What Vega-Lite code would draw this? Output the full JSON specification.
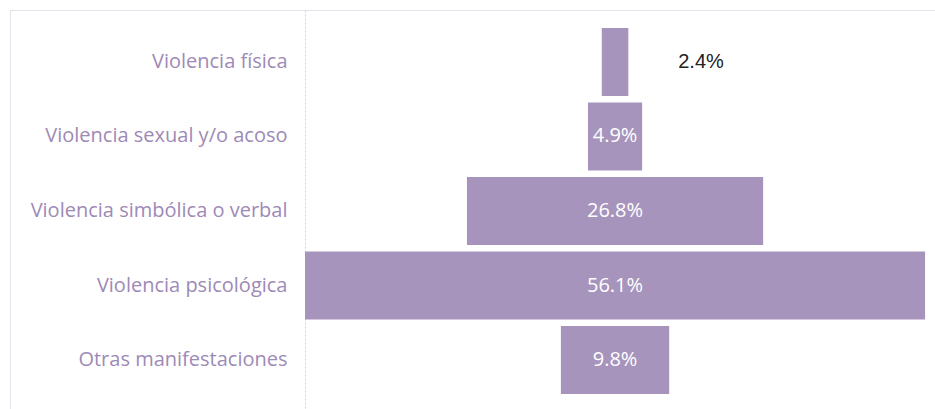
{
  "$schema": "https://vega.github.io/schema/vega-lite/v6.json",
  "width": 930,
  "height": 402,
  "autosize": {"type": "none"},
  "padding": {"left": 10, "top": 10, "right": 0, "bottom": 0},
  "config": {"view": {"stroke": "#e6e2ec", "strokeWidth": 1}},
  "data": {
    "values": [
      {"cat": "Violencia física", "v": 0.024},
      {"cat": "Violencia sexual y/o acoso", "v": 0.049},
      {"cat": "Violencia simbólica o verbal", "v": 0.268},
      {"cat": "Violencia psicológica", "v": 0.561},
      {"cat": "Otras manifestaciones", "v": 0.098}
    ]
  },
  "encoding": {
    "y": {
      "field": "cat",
      "type": "nominal",
      "sort": null,
      "scale": {"paddingInner": 0.087, "paddingOuter": 0.24},
      "axis": {
        "title": null,
        "orient": "left",
        "offset": -295,
        "ticks": false,
        "labelPadding": 18,
        "labelFont": "Open Sans",
        "labelFontSize": 20,
        "labelColor": "#9e8ab6",
        "domainColor": "#d6d0de",
        "domainDash": [2, 2],
        "labelLimit": 300
      }
    }
  },
  "layer": [
    {
      "mark": {"type": "bar", "color": "#a794bd"},
      "encoding": {
        "x": {
          "field": "v",
          "type": "quantitative",
          "stack": "center",
          "scale": {"domain": [-0.2669, 0.5745], "nice": false, "zero": false},
          "axis": null
        }
      }
    },
    {
      "transform": [{"filter": "datum.v > 0.03"}],
      "mark": {"type": "text", "color": "#ffffff", "font": "Open Sans", "fontSize": 20},
      "encoding": {
        "x": {"datum": 0.2805, "type": "quantitative"},
        "text": {"field": "v", "type": "quantitative", "format": ".1%"}
      }
    },
    {
      "transform": [{"filter": "datum.v < 0.03"}],
      "mark": {"type": "text", "color": "#222222", "font": "Liberation Sans", "fontSize": 20, "dx": 86},
      "encoding": {
        "x": {"datum": 0.2805, "type": "quantitative"},
        "text": {"field": "v", "type": "quantitative", "format": ".1%"}
      }
    }
  ]
}
